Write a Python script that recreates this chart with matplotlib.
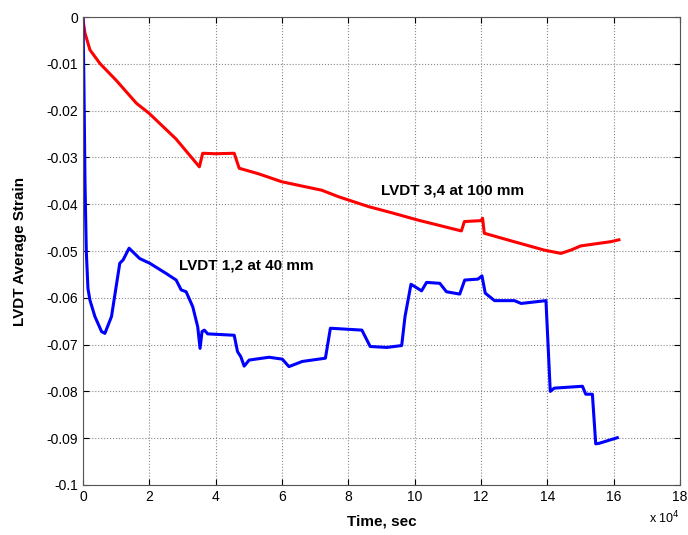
import matplotlib
matplotlib.use("Agg")
import matplotlib.pyplot as plt
from matplotlib.ticker import FormatStrFormatter

plt.rcParams['font.family'] = ['Liberation Sans', 'DejaVu Sans']
plt.rcParams['axes.unicode_minus'] = False

# Time in units of 1e4 sec, average strain
time_34 = [0, 0.02, 0.06, 0.21, 0.51, 1.0, 1.61, 2.0, 2.8, 3.51, 3.61, 4.0, 4.56, 4.71,
           5.3, 6.0, 7.2, 7.71, 8.61, 9.3, 10.11, 11.41, 11.5, 12.0, 12.05, 12.1,
           13.0, 13.91, 14.41, 14.71, 15.01, 15.91, 16.16]
strain_34 = [0, -0.0015, -0.0034, -0.007, -0.0099, -0.0135, -0.0184, -0.0206, -0.026, -0.032,
             -0.0291, -0.0292, -0.0291, -0.0323, -0.0335, -0.0352, -0.037, -0.0384, -0.0405,
             -0.0418, -0.0434, -0.0457, -0.0437, -0.0435, -0.043, -0.0462, -0.048, -0.0498,
             -0.0505, -0.0498, -0.0489, -0.048, -0.0476]

time_12 = [0, 0.03, 0.06, 0.1, 0.15, 0.21, 0.36, 0.56, 0.66, 0.86, 1.11, 1.21, 1.39, 1.71,
           2.01, 2.51, 2.81, 2.96, 3.11, 3.31, 3.46, 3.53, 3.59, 3.66, 3.76, 4.56, 4.66,
           4.76, 4.86, 5.01, 5.61, 6.01, 6.21, 6.61, 7.31, 7.46, 8.41, 8.66, 9.16, 9.61,
           9.71, 9.89, 10.21, 10.36, 10.76, 10.96, 11.36, 11.51, 11.91, 12.03, 12.13,
           12.41, 13.01, 13.21, 13.96, 14.09, 14.21, 15.06, 15.16, 15.36, 15.46, 15.56,
           16.11]
strain_12 = [0, -0.015, -0.035, -0.05, -0.058, -0.0605, -0.064, -0.0672, -0.0676, -0.064,
             -0.0526, -0.0519, -0.0494, -0.0516, -0.0526, -0.0548, -0.0562, -0.0583, -0.0587,
             -0.0619, -0.0662, -0.0708, -0.0672, -0.0669, -0.0677, -0.068, -0.0715, -0.0726,
             -0.0746, -0.0733, -0.0727, -0.0731, -0.0747, -0.0736, -0.0729, -0.0665, -0.0669,
             -0.0704, -0.0706, -0.0702, -0.064, -0.0571, -0.0585, -0.0567, -0.0569, -0.0587,
             -0.0592, -0.0562, -0.056, -0.0553, -0.059, -0.0606, -0.0606, -0.0612, -0.0606,
             -0.080, -0.0793, -0.0789, -0.0806, -0.0806, -0.0912, -0.0911, -0.0899]

fig = plt.figure(figsize=(6.88, 5.35), dpi=100)
ax = fig.add_axes([0.1206, 0.0935, 0.8677, 0.8745])

ax.plot(time_34, strain_34, color='#ff0000', linewidth=2.2)
ax.plot(time_12, strain_12, color='#0000ff', linewidth=2.2)

ax.set_xlim(0, 18)
ax.set_ylim(-0.1, 0)
ax.set_xticks(range(0, 19, 2))
ax.set_yticks([-0.1, -0.09, -0.08, -0.07, -0.06, -0.05, -0.04, -0.03, -0.02, -0.01, 0])
ax.yaxis.set_major_formatter(FormatStrFormatter('%g'))
ax.tick_params(direction='in', labelsize=10, length=4, top=True, right=True)
ax.grid(True, linestyle=':', color='#888888', linewidth=0.8)
for s in ax.spines.values():
    s.set_color('#555555')

ax.text(9.0, -0.037, 'LVDT 3,4 at 100 mm', fontsize=11, fontweight='bold', va='center')
ax.text(2.9, -0.053, 'LVDT 1,2 at 40 mm', fontsize=11, fontweight='bold', va='center')

ax.set_xlabel('Time, sec', fontsize=11, fontweight='bold', labelpad=8)
ax.set_ylabel('LVDT Average Strain', fontsize=11, fontweight='bold', labelpad=14)
fig.text(0.943, 0.022, r'x 10$^{4}$', fontsize=9, ha='left')

fig.savefig('out.png', dpi=100)
